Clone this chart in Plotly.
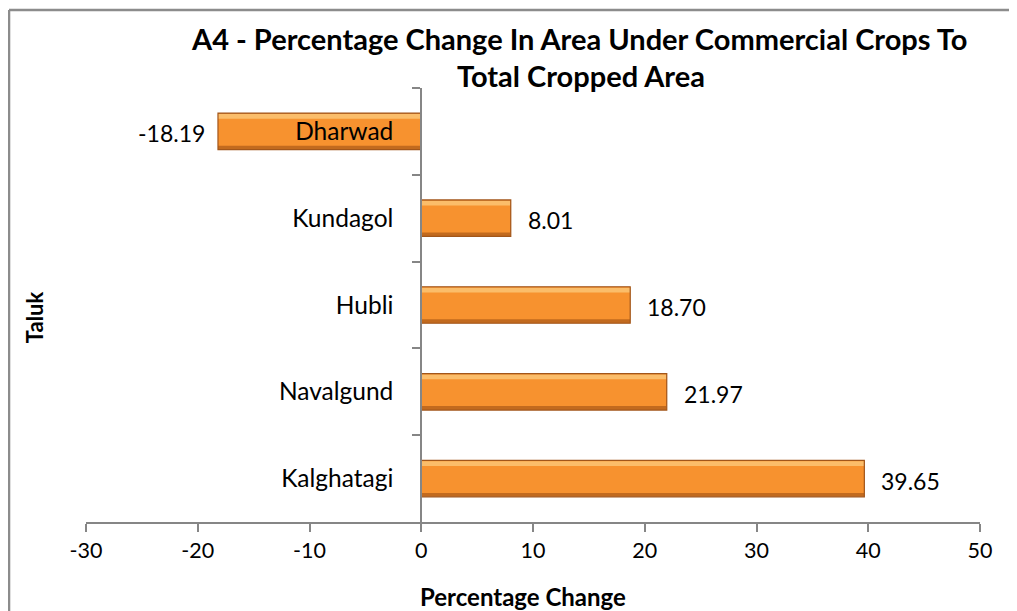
import plotly.graph_objects as go

taluks = ["Dharwad", "Kundagol", "Hubli", "Navalgund", "Kalghatagi"]
changes = [-18.19, 8.01, 18.70, 21.97, 39.65]
x_ticks = [-30, -20, -10, 0, 10, 20, 30, 40, 50]
x_tick_labels = ["-30", "-20", "-10", "0", "10", "20", "30", "40", "50"]

title_line1 = "A4 - Percentage Change In Area Under Commercial Crops To"
title_line2 = "Total Cropped Area"
x_title = "Percentage Change"
y_title = "Taluk"

FONT = "Lato"
AX = "#868686"

fig = go.Figure()
# dark base (bottom edge)
fig.add_trace(go.Bar(y=taluks, x=changes, orientation="h", width=0.42, offset=-0.21,
                     marker=dict(color="#C26A1E", line=dict(width=0)),
                     showlegend=False, hoverinfo="skip"))
# main orange face
fig.add_trace(go.Bar(y=taluks, x=changes, orientation="h", width=0.37, offset=-0.205,
                     marker=dict(color="#F7922F", line=dict(width=0)),
                     showlegend=False))
# top highlight
fig.add_trace(go.Bar(y=taluks, x=changes, orientation="h", width=0.055, offset=-0.2,
                     marker=dict(color="#FBBD6A", line=dict(width=0)),
                     showlegend=False, hoverinfo="skip"))
# thin outline
fig.add_trace(go.Bar(y=taluks, x=changes, orientation="h", width=0.42, offset=-0.21,
                     marker=dict(color="rgba(0,0,0,0)", line=dict(color="#A2561A", width=1.2)),
                     showlegend=False, hoverinfo="skip"))

# value labels
for t, v in zip(taluks, changes):
    fig.add_annotation(x=v, y=t, xref="x", yref="y", text=f"{v:.2f}", showarrow=False,
                       xanchor="left" if v >= 0 else "right",
                       xshift=15 if v >= 0 else -11, yshift=-2,
                       font=dict(family=FONT, size=23, color="black"))

fig.update_layout(
    width=1009, height=603,
    margin=dict(l=78, r=37, t=80, b=89),
    paper_bgcolor="white", plot_bgcolor="white",
    barmode="overlay",
    xaxis=dict(range=[-30, 50], tickvals=x_ticks, ticktext=x_tick_labels,
               showgrid=False, zeroline=False,
               showline=True, linecolor=AX, linewidth=1.5,
               ticks="outside", ticklen=8, tickcolor=AX, tickwidth=1.5,
               tickfont=dict(family=FONT, size=21.5, color="black")),
    yaxis=dict(autorange="reversed", anchor="free", position=0.3747,
               showgrid=False, zeroline=False,
               showline=True, linecolor=AX, linewidth=1.5,
               ticks="outside", ticklen=8, tickcolor=AX, tickwidth=1.5,
               tickson="boundaries", ticklabelstandoff=22,
               tickfont=dict(family=FONT, size=24.5, color="black")),
)

# titles
fig.add_annotation(text=title_line1, xref="paper", yref="paper", x=0.5515, y=1.1152,
                   xanchor="center", yanchor="middle", showarrow=False,
                   font=dict(family=FONT, size=29, color="black", weight="bold"))
fig.add_annotation(text=title_line2, xref="paper", yref="paper", x=0.5535, y=1.0299,
                   xanchor="center", yanchor="middle", showarrow=False,
                   font=dict(family=FONT, size=29, color="black", weight="bold"))
fig.add_annotation(text=x_title, xref="paper", yref="paper", x=0.4888, y=-0.1728,
                   xanchor="center", yanchor="middle", showarrow=False,
                   font=dict(family=FONT, size=24, color="black", weight="bold"))
fig.add_annotation(text=y_title, xref="paper", yref="paper", x=-0.058, y=0.472,
                   xanchor="center", yanchor="middle", textangle=-90, showarrow=False,
                   font=dict(family=FONT, size=22, color="black", weight="bold"))

# chart border (left and top edges visible)
fig.add_shape(type="line", xref="paper", yref="paper", x0=-0.0861, x1=1.06, y0=1.1797, y1=1.1797,
              line=dict(color="#8C8C8C", width=2.5))
fig.add_shape(type="line", xref="paper", yref="paper", x0=-0.0861, x1=-0.0861, y0=1.1797, y1=-0.3,
              line=dict(color="#8C8C8C", width=2.5))

fig.write_html("out.html")
